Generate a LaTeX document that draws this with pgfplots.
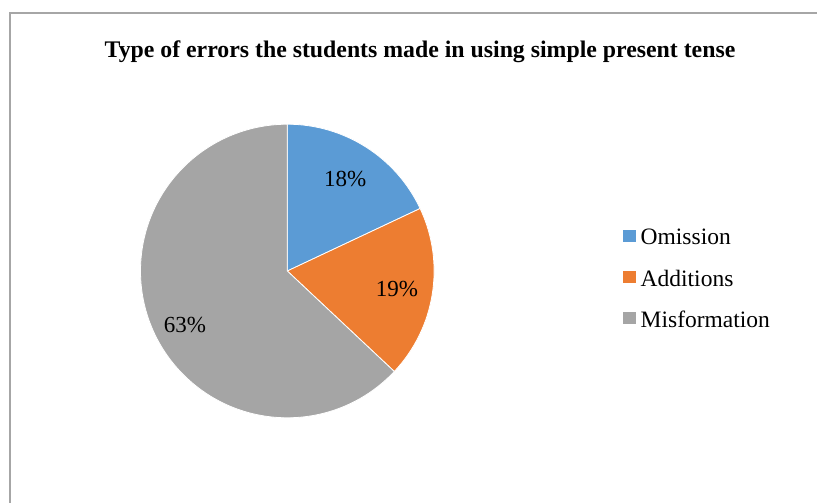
\documentclass[border=0pt]{standalone}
\usepackage{pgfplots}
\pgfplotsset{compat=1.18}
\usepackage{fontspec}
\setmainfont{Liberation Serif}
\definecolor{c1}{HTML}{5B9BD5}
\definecolor{c2}{HTML}{ED7D31}
\definecolor{c3}{HTML}{A5A5A5}
\definecolor{frame}{HTML}{A6A6A6}
\begin{document}
\begin{tikzpicture}
\useasboundingbox (0,0) rectangle (817pt,503pt);
\clip (0,0) rectangle (817pt,503pt);
\begin{axis}[
  at={(0,0)}, anchor=south west,
  width=817pt, height=503pt, scale only axis,
  xmin=0, xmax=817, ymin=0, ymax=503,
  axis lines=none, clip=false,
  legend image code/.code={\fill[#1, draw=none] (0pt,-4pt) rectangle (12.5pt,8pt); \path[draw=none, fill=none] (0pt,0pt) -- (15.5pt,0pt);},
  legend style={draw=none, fill=none, at={(axis cs:623,503-227)}, anchor=north west,
    font=\fontsize{23.5}{27}\selectfont, row sep=19.5pt, cells={anchor=west},
    inner sep=0pt},
]
% frame of the chart area
\draw[frame, line width=1.5pt] (axis cs:10,-20) |- (axis cs:840,490);
% title
\node[font=\bfseries\fontsize{23.8}{28}\selectfont] at (axis cs:420,503-52) {Type of errors the students made in using simple present tense};
% slices: Omission 18, Additions 19, Misformation 63 (percent)
\fill[c1, draw=white, line width=0.8pt] (axis cs:287.3,232) -- ++(90:146.8pt)
  arc[start angle=90, end angle={90-18*3.6}, radius=146.8pt] -- cycle;
\fill[c2, draw=white, line width=0.8pt] (axis cs:287.3,232) -- ++({90-18*3.6}:146.8pt)
  arc[start angle={90-18*3.6}, end angle={90-(18+19)*3.6}, radius=146.8pt] -- cycle;
\fill[c3, draw=white, line width=0.8pt] (axis cs:287.3,232) -- ++({90-(18+19)*3.6}:146.8pt)
  arc[start angle={90-(18+19)*3.6}, end angle={90-(18+19+63)*3.6}, radius=146.8pt] -- cycle;
% data labels
\node[font=\fontsize{23}{27}\selectfont] at (axis cs:345.3,503-179.5) {18\%};
\node[font=\fontsize{23}{27}\selectfont] at (axis cs:397,503-289.5) {19\%};
\node[font=\fontsize{23}{27}\selectfont] at (axis cs:185,503-325.5) {63\%};
% legend
\addlegendimage{c1}
\addlegendentry{Omission}
\addlegendimage{c2}
\addlegendentry{Additions}
\addlegendimage{c3}
\addlegendentry{Misformation}
\end{axis}
\end{tikzpicture}
\end{document}
